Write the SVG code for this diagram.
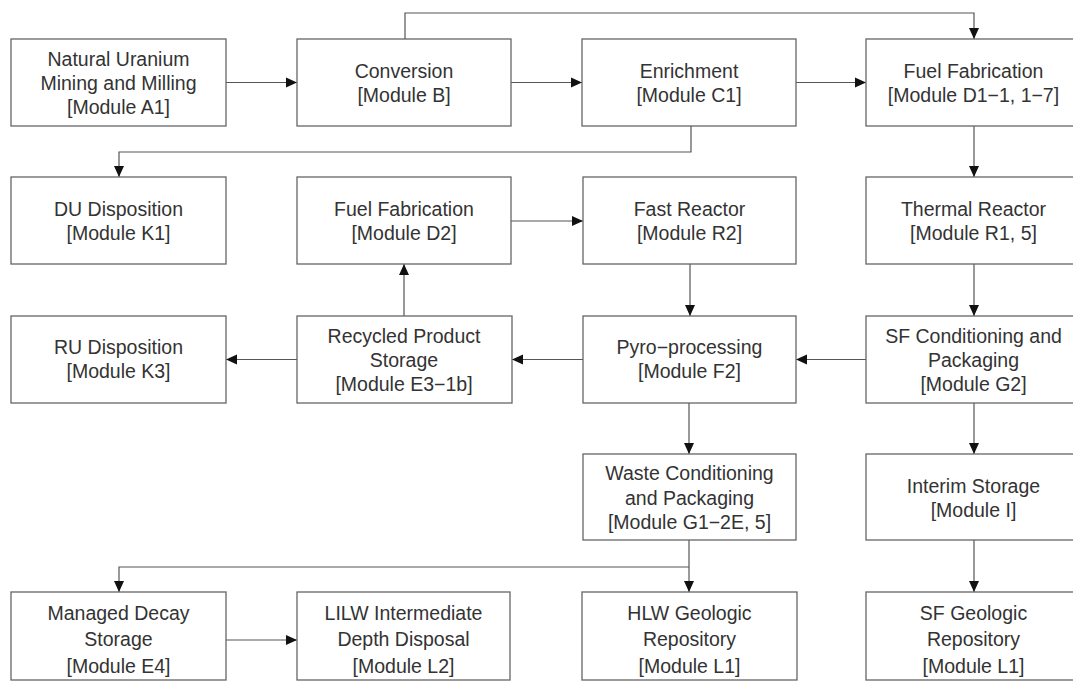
<svg xmlns="http://www.w3.org/2000/svg" width="1073" height="681" viewBox="0 0 1073 681">
<defs>
<marker id="ah" markerUnits="userSpaceOnUse" markerWidth="12" markerHeight="12" viewBox="0 0 12 12" refX="11" refY="6" orient="auto">
<path d="M0,1 L11,6 L0,11 Z" fill="#111"/>
</marker>
<style>
.box{fill:#fff;stroke:#666;stroke-width:1.3}
.t{font-family:"Liberation Sans",Arial,sans-serif;font-size:19.5px;fill:#333;text-anchor:middle}
.c{fill:none;stroke:#555;stroke-width:1.2}
.a{marker-end:url(#ah)}
</style>
</defs>
<rect width="1073" height="681" fill="#fff"/>
<g id="connectors">
<path class="c a" d="M226,82.5 H297"/>
<path class="c a" d="M511,82.5 H582"/>
<path class="c a" d="M796,82.5 H866"/>
<path class="c a" d="M405,39 V13 H974 V39"/>
<path class="c a" d="M691,126 V152 H119 V177"/>
<path class="c a" d="M974,126 V177"/>
<path class="c a" d="M511,221 H583"/>
<path class="c a" d="M690,264 V316"/>
<path class="c a" d="M404,316 V264"/>
<path class="c a" d="M297,359.5 H226"/>
<path class="c a" d="M583,359.5 H512"/>
<path class="c a" d="M866,359.5 H796"/>
<path class="c a" d="M974,264 V316"/>
<path class="c a" d="M689,403 V454"/>
<path class="c a" d="M974,403 V454"/>
<path class="c a" d="M689,540 V592"/>
<path class="c a" d="M689,567 H119 V592"/>
<path class="c a" d="M226,640 H297"/>
<path class="c a" d="M974,540 V592"/>
</g>
<g id="A1"><rect class="box" x="11" y="39" width="215" height="87"/>
<text class="t" x="118.5" y="66">Natural Uranium</text><text class="t" x="118.5" y="90">Mining and Milling</text><text class="t" x="118.5" y="114">[Module A1]</text></g>
<g id="B"><rect class="box" x="297" y="39" width="214" height="87"/>
<text class="t" x="404" y="78">Conversion</text><text class="t" x="404" y="102">[Module B]</text></g>
<g id="C1"><rect class="box" x="582" y="39" width="214" height="87"/>
<text class="t" x="689" y="78">Enrichment</text><text class="t" x="689" y="102">[Module C1]</text></g>
<g id="D1"><rect class="box" x="866" y="39" width="215" height="87"/>
<text class="t" x="973.5" y="78">Fuel Fabrication</text><text class="t" x="973.5" y="102">[Module D1−1, 1−7]</text></g>
<g id="K1"><rect class="box" x="11" y="177" width="215" height="87"/>
<text class="t" x="118.5" y="216">DU Disposition</text><text class="t" x="118.5" y="240">[Module K1]</text></g>
<g id="D2"><rect class="box" x="297" y="177" width="214" height="87"/>
<text class="t" x="404" y="216">Fuel Fabrication</text><text class="t" x="404" y="240">[Module D2]</text></g>
<g id="R2"><rect class="box" x="583" y="177" width="213" height="87"/>
<text class="t" x="689.5" y="216">Fast Reactor</text><text class="t" x="689.5" y="240">[Module R2]</text></g>
<g id="R1"><rect class="box" x="866" y="177" width="215" height="87"/>
<text class="t" x="973.5" y="216">Thermal Reactor</text><text class="t" x="973.5" y="240">[Module R1, 5]</text></g>
<g id="K3"><rect class="box" x="11" y="316" width="215" height="87"/>
<text class="t" x="118.5" y="354">RU Disposition</text><text class="t" x="118.5" y="378">[Module K3]</text></g>
<g id="E3"><rect class="box" x="297" y="316" width="215" height="87"/>
<text class="t" x="404" y="342.5">Recycled Product</text><text class="t" x="404" y="366.5">Storage</text><text class="t" x="404" y="390.5">[Module E3−1b]</text></g>
<g id="F2"><rect class="box" x="583" y="316" width="213" height="87"/>
<text class="t" x="689.5" y="354">Pyro−processing</text><text class="t" x="689.5" y="378">[Module F2]</text></g>
<g id="G2"><rect class="box" x="866" y="316" width="215" height="87"/>
<text class="t" x="973.5" y="342.5">SF Conditioning and</text><text class="t" x="973.5" y="366.5">Packaging</text><text class="t" x="973.5" y="390.5">[Module G2]</text></g>
<g id="G1"><rect class="box" x="583" y="454" width="213" height="86"/>
<text class="t" x="689.5" y="480">Waste Conditioning</text><text class="t" x="689.5" y="504.5">and Packaging</text><text class="t" x="689.5" y="529">[Module G1−2E, 5]</text></g>
<g id="I"><rect class="box" x="866" y="454" width="215" height="86"/>
<text class="t" x="973.5" y="493">Interim Storage</text><text class="t" x="973.5" y="517">[Module I]</text></g>
<g id="E4"><rect class="box" x="11" y="592" width="215" height="88"/>
<text class="t" x="118.5" y="619.5">Managed Decay</text><text class="t" x="118.5" y="646">Storage</text><text class="t" x="118.5" y="672.5">[Module E4]</text></g>
<g id="L2"><rect class="box" x="297" y="592" width="213" height="88"/>
<text class="t" x="403.5" y="619.5">LILW Intermediate</text><text class="t" x="403.5" y="646">Depth Disposal</text><text class="t" x="403.5" y="672.5">[Module L2]</text></g>
<g id="L1a"><rect class="box" x="582" y="592" width="215" height="88"/>
<text class="t" x="689.5" y="619.5">HLW Geologic</text><text class="t" x="689.5" y="646">Repository</text><text class="t" x="689.5" y="672.5">[Module L1]</text></g>
<g id="L1b"><rect class="box" x="866" y="592" width="215" height="88"/>
<text class="t" x="973.5" y="619.5">SF Geologic</text><text class="t" x="973.5" y="646">Repository</text><text class="t" x="973.5" y="672.5">[Module L1]</text></g>
</svg>
